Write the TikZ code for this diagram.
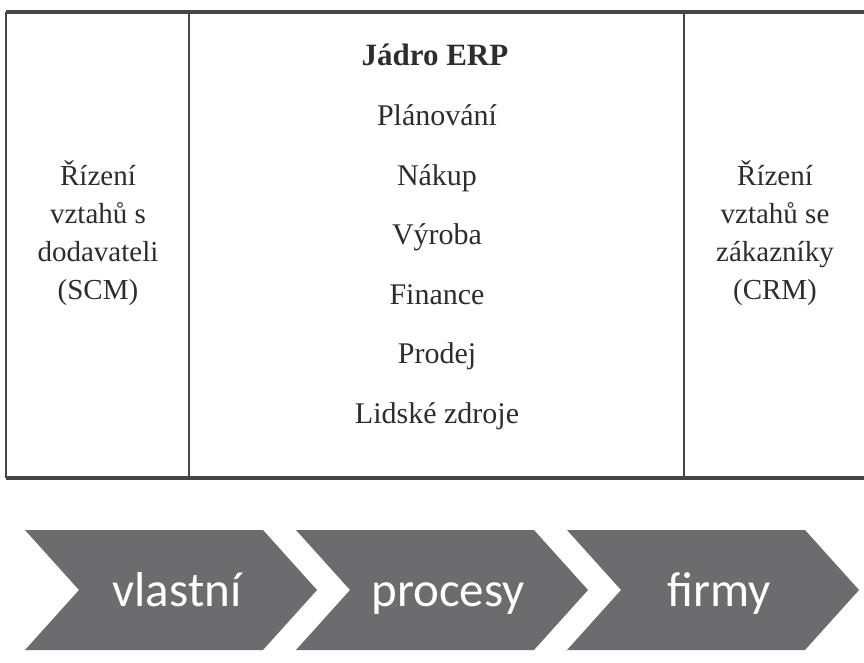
\documentclass[tikz,border=0pt]{standalone}
\usepackage{fontspec}
\setmainfont{Liberation Serif}
\newfontfamily\chevfont{Carlito}
\definecolor{inkgray}{RGB}{45,45,45}
\definecolor{rulegray}{RGB}{70,70,70}
\definecolor{chevgray}{RGB}{108,108,110}
\tikzset{
  rulethin/.style={draw=rulegray, line width=1.8pt},
  rulethick/.style={draw=rulegray, line width=4.5pt},
  sidetext/.style={text=inkgray, align=center, font=\fontsize{29}{38}\selectfont, inner sep=0pt},
  coretitle/.style={text=inkgray, font=\fontsize{31}{33}\selectfont\bfseries, inner sep=0pt, anchor=base},
  coreitem/.style={text=inkgray, font=\fontsize{30}{32}\selectfont, inner sep=0pt, anchor=base},
  chevfill/.style={fill=chevgray, draw=none},
  chevlabel/.style={text=white, font=\chevfont\fontsize{49}{52}\selectfont, inner sep=0pt, anchor=base}
}
\begin{document}
\begin{tikzpicture}[x=1pt, y=-1pt]
  \useasboundingbox (0,0) rectangle (864,662);
  \fill[white] (0,0) rectangle (864,662);

  % table frame
  \coordinate (tl) at (6,12);
  \coordinate (bl) at (6,478);
  \coordinate (tr) at (864,12);
  \coordinate (br) at (864,478);
  \coordinate (d1t) at (189,12);
  \coordinate (d1b) at (189,478);
  \coordinate (d2t) at (684,12);
  \coordinate (d2b) at (684,478);
  \draw[rulethin] (tl) -- (bl);
  \draw[rulethin] (d1t) -- (d1b);
  \draw[rulethin] (d2t) -- (d2b);
  \draw[rulethick] (tl) -- (tr);
  \draw[rulethick, line width=3.5pt] (bl) -- (br);

  % left column
  \node[sidetext] (scm) at (98,233) {Řízení\\vztahů s\\dodavateli\\(SCM)};
  % right column
  \node[sidetext] (crm) at (775,233) {Řízení\\vztahů se\\zákazníky\\(CRM)};

  % ERP core
  \node[coretitle] (core) at (435,65) {Jádro ERP};
  \node[coreitem] (plan) at (437,125) {Plánování};
  \node[coreitem] (nakup) at (437,185) {Nákup};
  \node[coreitem] (vyroba) at (437,244) {Výroba};
  \node[coreitem] (finance) at (437,304) {Finance};
  \node[coreitem] (prodej) at (437,363) {Prodej};
  \node[coreitem] (hr) at (437,423) {Lidské zdroje};

  % process chevrons
  \foreach \x/\t [count=\i] in {25/vlastní, 296/procesy, 567/firmy} {
    \fill[chevfill] (\x,530) -- ++(238,0) -- ++(54,60) -- ++(-54,60)
      -- ++(-238,0) -- ++(54,-60) -- cycle;
    \node[chevlabel] (chev\i) at (\x+152,606) {\t};
  }
\end{tikzpicture}
\end{document}
